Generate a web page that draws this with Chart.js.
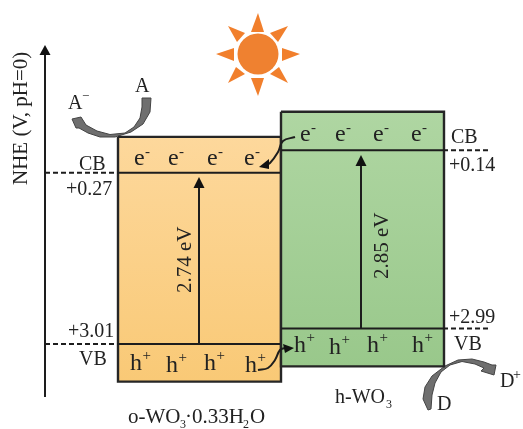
<!DOCTYPE html>
<html>
<head>
<meta charset="utf-8">
<style>html,body{margin:0;padding:0;background:#fff}canvas{display:block;filter:blur(0.35px)}</style>
<script src="https://cdn.jsdelivr.net/npm/chart.js@4"></script>
</head>
<body>
<canvas id="c" width="523" height="429"></canvas>
<script>
// Band data (V vs NHE)
const materials = ['o-WO', 'h-WO'];
const cbValues = [0.27, 0.14];
const vbValues = [3.01, 2.99];
const bandGaps = [2.74, 2.85];
const drawnShift = [0, -0.23];          // the picture is not to scale: h-WO3 is lifted
const boxTopV = [-0.305, -0.475];
const boxBottomV = [3.61, 3.597];
const boxLeft = [118, 281];
const boxRight = [281, 444];
const gapArrowX = [199, 361];
const dashFromX = [45, 488];
const boxColors = [['#FDD89C', '#F9C976'], ['#AFD6A2', '#99C88B']];

// Decorations, on the diagram's own scale
const axisX = [45, 45];
const axisY = [397, 54];
const sunCentre = [258, 54];
const sunRays = [
  [[258,13],[251,32],[264,32]], [[300,54],[282,48],[282,61]],
  [[258,96],[251,78],[264,78]], [[216,54],[234,48],[234,61]],
  [[288,26],[270,33],[278,42]], [[228,26],[245,33],[237,42]],
  [[288,83],[270,74],[279,67]], [[228,83],[245,74],[236,67]]
];
const grayArrowA = [[151,98],[150,112],[143,124],[131,132],[115,137],[100,137],[88,133],[79,128],[76,128],[72,119],[81,117],[86,125],[97,131],[110,134.5],[125,133],[134,127],[140,118],[142,107],[142,98]];
const grayArrowD = [[428,410],[423,399],[425,387],[432,376],[445,366],[458,360],[472,359],[484,362],[492,365],[496,365],[494,375],[481,371],[484,368],[475,364],[462,361.5],[450,365],[441,372],[435,383],[432,395],[431,409]];
const electronCurve = [[295,137],[283,141],[278,152],[270,163],[265,165]];
const electronHead = [[259,167],[269,159],[269,169]];
const holeCurve = [[258,370],[268,368],[275,360],[280,350],[285,348]];
const holeHead = [[294,348],[283,344],[285,353]];
const arrowHeads = [
  [[45,45],[39.5,55],[50.5,55]],
  [[199,177],[193.5,188],[204.5,188]],
  [[361,155],[355.5,166],[366.5,166]]
];

// Text
const carrierE = [[134,165],[168,165],[207,165],[244,165],[300,141],[335,141],[373,141],[411,141]];
const carrierH = [[130,370],[166,372],[204,370],[245,372],[294,352],[329,354],[367,352],[412,352]];
const plainLabels = [
  ['CB',79,170,20],['VB',79,365,20],['CB',451,143,20],['VB',454,350,20],
  ['A',135,92,20],['A',68,109,20],['\u2212',82,100,13],
  ['D',437,410,20],['D',500,387,20],['+',513,379,14],
  ['h-WO',335,403,20],['3',386,408,12],
  ['o-WO',128,423,21],['3',180,428,12],['\u00b70.33H',185,423,21],['2',243,428,12],['O',250,423,21]
];
const valueLabelPos = [[[66,195],[68,337]], [[449,171],[449,323]]];
const gapLabelPos = [[191,293],[388,279]];
const axisTitle = 'NHE (V, pH=0)';

const INK = '#1d1d1d';
const datasets = [];
function add(ds){ datasets.push(Object.assign({
  showLine:true, pointRadius:0, borderWidth:2, borderColor:INK, backgroundColor:'transparent',
  fill:false, tension:0, yAxisID:'yd', borderCapStyle:'butt'
}, ds)); }
function xy(pts){ return pts.map(p => ({x:p[0], y:p[1]})); }
function shape(pts, color, extra){ add(Object.assign({data:xy(pts.concat([pts[0]])), fill:'shape', backgroundColor:color, borderWidth:0, borderColor:color}, extra||{})); }

// gray curved arrows
shape(grayArrowA, '#6f6f6f', {borderWidth:1, borderColor:'#444'});
shape(grayArrowD, '#6f6f6f', {borderWidth:1, borderColor:'#444'});

// band boxes and levels
materials.forEach((m, i) => {
  const s = drawnShift[i];
  const l = boxLeft[i], r = boxRight[i];
  const t = boxTopV[i] + s, b = boxBottomV[i] + s;
  add({
    yAxisID:'y', fill:'shape', borderWidth:2.4, borderColor:'#262626',
    backgroundColor: ctx => {
      const sc = ctx.chart.scales.y;
      const y0 = sc ? sc.getPixelForValue(t) : NaN, y1 = sc ? sc.getPixelForValue(b) : NaN;
      if (!isFinite(y0) || !isFinite(y1)) return boxColors[i][0];
      const g = ctx.chart.ctx.createLinearGradient(0, y0, 0, y1);
      g.addColorStop(0, boxColors[i][0]);
      g.addColorStop(1, boxColors[i][1]);
      return g;
    },
    data:[{x:l,y:t},{x:r,y:t},{x:r,y:b},{x:l,y:b},{x:l,y:t}]
  });
  [cbValues[i], vbValues[i]].forEach(v => {
    add({yAxisID:'y', data:[{x:l,y:v+s},{x:r,y:v+s}]});
    const edge = i === 0 ? l : r;
    add({yAxisID:'y', borderDash:[5,3], data:[{x:dashFromX[i],y:v+s},{x:edge,y:v+s}]});
  });
  add({yAxisID:'y', data:[{x:gapArrowX[i],y:vbValues[i]+s},{x:gapArrowX[i],y:cbValues[i]+s+0.2}]});
});

// axis line and arrowheads
add({data:axisX.map((x,i)=>({x, y:axisY[i]}))});
arrowHeads.forEach(h => shape(h, '#111'));

// transfer arrows
add({data:xy(electronCurve), tension:0.4});
shape(electronHead, '#111');
add({data:xy(holeCurve), tension:0.4});
shape(holeHead, '#111');

// sun
sunRays.forEach(r => shape(r, '#F17F2C'));
add({showLine:false, data:[{x:sunCentre[0], y:sunCentre[1]}], pointRadius:20.5, pointBackgroundColor:'#EF8130', pointBorderWidth:0});

datasets.forEach((d, i) => { d.order = datasets.length - i; });

const textPlugin = {
  id:'diagramText',
  afterDatasetsDraw(chart){
    const c = chart.ctx, X = chart.scales.x, Y = chart.scales.yd;
    const put = (t, x, y, size, rot) => {
      c.save();
      c.translate(X.getPixelForValue(x), Y.getPixelForValue(y));
      if (rot) c.rotate(rot);
      c.font = size + 'px "Liberation Serif"';
      c.fillStyle = '#222';
      c.textAlign = 'left'; c.textBaseline = 'alphabetic';
      c.fillText(t, 0, 0);
      c.restore();
    };
    carrierE.forEach(p => { put('e', p[0], p[1], 24); put('-', p[0]+11, p[1]-9, 15); });
    carrierH.forEach(p => { put('h', p[0], p[1], 24); put('+', p[0]+12.5, p[1]-10, 15); });
    plainLabels.forEach(l => put(l[0], l[1], l[2], l[3]));
    valueLabelPos.forEach((pair, i) => {
      put('+' + cbValues[i].toFixed(2), pair[0][0], pair[0][1], 20);
      put('+' + vbValues[i].toFixed(2), pair[1][0], pair[1][1], 20);
    });
    bandGaps.forEach((g, i) => put(g.toFixed(2) + ' eV', gapLabelPos[i][0], gapLabelPos[i][1], 21, -Math.PI/2));
    put(axisTitle, 27, 185, 21, -Math.PI/2);
  }
};

new Chart(document.getElementById('c'), {
  type:'scatter',
  data:{datasets},
  options:{
    responsive:false, animation:false, devicePixelRatio:1,
    layout:{padding:0, autoPadding:false},
    plugins:{legend:{display:false}, tooltip:{enabled:false}, title:{display:false}},
    scales:{
      x:{type:'linear', min:0, max:523, display:false},
      y:{type:'linear', min:-2.4935, max:4.368, reverse:true, display:false},
      yd:{type:'linear', min:0, max:429, reverse:true, display:false}
    }
  },
  plugins:[textPlugin]
});
</script>
</body>
</html>
